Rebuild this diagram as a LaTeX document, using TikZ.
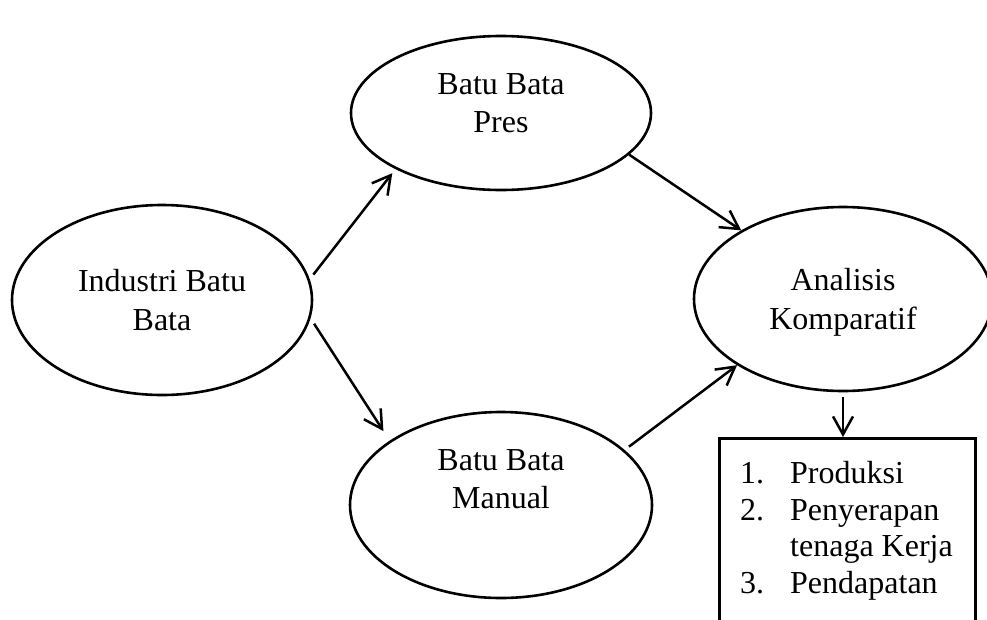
\documentclass[tikz,border=0pt]{standalone}
\usepackage{fontspec}
\setmainfont{Liberation Serif}
\usetikzlibrary{arrows.meta,shapes.geometric}
\tikzset{
  >={Straight Barb[length=18pt,width=20pt]},
  oval/.style={
    ellipse,
    draw=black,
    line width=2.6pt,
    inner sep=0pt,
    align=center,
    font=\fontsize{32}{38.7}\selectfont
  },
  panah/.style={
    ->,
    line width=2.5pt,
    draw=black
  },
  kotak/.style={
    rectangle,
    draw=black,
    line width=3pt,
    minimum width=256pt,
    minimum height=250pt
  },
  daftar/.style={
    inner sep=0pt,
    font=\fontsize{32}{36.5}\selectfont
  }
}

\begin{document}
\begin{tikzpicture}[x=1pt,y=-1pt]
\useasboundingbox (0,0) rectangle (987,619);
\clip (0,0) rectangle (987,619);

\node[oval, minimum width=300pt, minimum height=190pt] (industri) at (162,300)
{Industri Batu\\Bata};
\node[oval, minimum width=300pt, minimum height=154pt, text depth=20pt] (pres) at (501,113)
{Batu Bata\\Pres};
\node[oval, minimum width=302pt, minimum height=186pt, text depth=52pt] (manual) at (501,505)
{Batu Bata\\Manual};
\node[oval, minimum width=298pt, minimum height=184pt, text depth=0pt] (analisis) at (843,299)
{Analisis\\Komparatif};

\node[kotak, anchor=north] (hasil) at (847,437) {};
\node[daftar, anchor=base west] (poin) at (740,483.5)
{\begin{tabular}[t]{@{}l@{\hspace{26pt}}l@{}}
1. & Produksi\\
2. & Penyerapan\\
   & tenaga Kerja\\
3. & Pendapatan
\end{tabular}};

\draw[panah, shorten <=5.9pt, shorten >=5.2pt] (industri.8.4) -- (pres.208.6);
\draw[panah, shorten <=6.5pt, shorten >=11.4pt] (industri.-7.6) -- (manual.150.8);
\draw[panah] (pres.-18.3) -- (analisis.146.6);
\draw[panah, shorten <=5.4pt] (manual.24.8) -- (analisis.212.8);
\draw[panah, shorten <=5pt] (analisis.south) -- (analisis.south |- hasil.north);

\end{tikzpicture}
\end{document}
